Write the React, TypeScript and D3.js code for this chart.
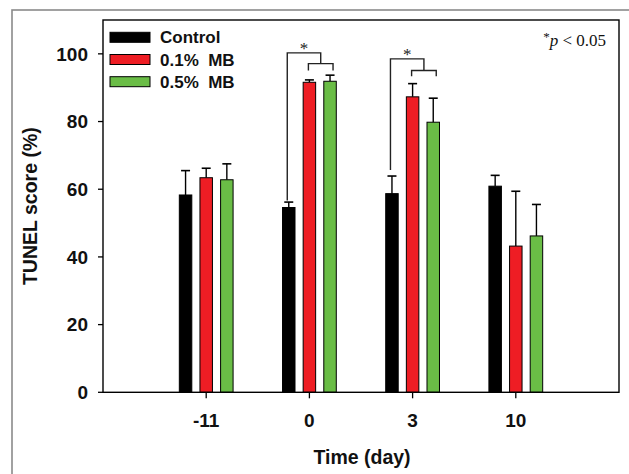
import React from "react";
import * as d3 from "d3";

const categories = ["-11", "0", "3", "10"];
const seriesNames = ["Control", "0.1%  MB", "0.5%  MB"];
const controlValues = [58.3, 54.6, 58.7, 60.9];
const controlErrors = [7.2, 1.6, 5.2, 3.2];
const mb01Values = [63.4, 91.6, 87.3, 43.2];
const mb01Errors = [2.8, 0.7, 3.9, 16.2];
const mb05Values = [62.8, 91.9, 79.8, 46.2];
const mb05Errors = [4.7, 1.8, 7.1, 9.3];
const yTicks = [0, 20, 40, 60, 80, 100];
// significance brackets: group index, big bracket top, small bracket level, small legs end, left leg end
const sigGroups = [1, 2];
const sigTop = [100.3, 98.5];
const sigSmall = [97.1, 95.1];
const sigSmallLeg = [95.1, 93.4];
const sigLeftEnd = [56.7, 65.7];

const colors = ["#000000", "#ee1d24", "#6abd46"];

export default function App() {
  const W = 629, H = 474;
  const left = 103, right = 619, top = 20, bottom = 392.3;
  const x = d3.scaleLinear().domain([0, 5]).range([left, right]);
  const y = d3.scaleLinear().domain([0, 110]).range([bottom, top]);
  const unit = x(1) - x(0);
  const offset = unit * 0.2;
  const bw = unit * 0.121;
  const cap = 9;
  const series = [
    { v: controlValues, e: controlErrors },
    { v: mb01Values, e: mb01Errors },
    { v: mb05Values, e: mb05Errors },
  ];
  const sans = "Arial, 'Liberation Sans', sans-serif";
  const serif = "'Times New Roman', 'Liberation Serif', serif";

  return (
    <svg width={W} height={H} style={{ position: "absolute", left: 0, top: 0, background: "#fff" }}>
      <rect x={12} y={10} width={700} height={600} fill="none" stroke="#8a8a8a" strokeWidth={1.6} />
      {/* bars */}
      {series.map((s, si) =>
        categories.map((c, ci) => {
          const cx = x(ci + 1) + (si - 1) * offset;
          const yt = y(s.v[ci]);
          const ye = y(s.v[ci] + s.e[ci]);
          return (
            <g key={`${si}-${ci}`}>
              <line x1={cx} x2={cx} y1={yt} y2={ye} stroke="#000" strokeWidth={1.4} />
              <line x1={cx - cap / 2} x2={cx + cap / 2} y1={ye} y2={ye} stroke="#000" strokeWidth={1.6} />
              <rect x={cx - bw / 2} y={yt} width={bw} height={bottom - yt} fill={colors[si]} stroke="#000" strokeWidth={1} />
            </g>
          );
        })
      )}
      {/* frame */}
      <rect x={left} y={top} width={right - left} height={bottom - top} fill="none" stroke="#000" strokeWidth={1.4} />
      {/* y ticks */}
      {yTicks.map((t) => (
        <g key={t}>
          <line x1={left - 5} x2={left} y1={y(t)} y2={y(t)} stroke="#000" strokeWidth={1.3} />
          <text x={88} y={y(t)} dy="0.36em" textAnchor="end" fontFamily={sans} fontWeight="bold" fontSize={19} fill="#111">
            {t}
          </text>
        </g>
      ))}
      {/* x ticks */}
      {categories.map((c, ci) => (
        <g key={c}>
          <line x1={x(ci + 1)} x2={x(ci + 1)} y1={bottom} y2={bottom + 6} stroke="#000" strokeWidth={1.3} />
          <text x={x(ci + 1)} y={420} dy="0.36em" textAnchor="middle" fontFamily={sans} fontWeight="bold" fontSize={19} fill="#111">
            {c}
          </text>
        </g>
      ))}
      {/* axis labels */}
      <text x={362} y={457} dy="0.36em" textAnchor="middle" fontFamily={sans} fontWeight="bold" fontSize={19.5} fill="#111">
        Time (day)
      </text>
      <text transform={`translate(30,${(top + bottom) / 2}) rotate(-90)`} dy="0.36em" textAnchor="middle" fontFamily={sans} fontWeight="bold" fontSize={19.5} fill="#111">
        TUNEL score (%)
      </text>
      {/* legend */}
      {seriesNames.map((n, i) => (
        <g key={n}>
          <rect x={110} y={32.3 + i * 22.2} width={40} height={10} fill={colors[i]} stroke="#000" strokeWidth={1} />
          <text x={160} y={37.3 + i * 22.2} dy="0.36em" fontFamily={sans} fontWeight="bold" fontSize={17} fill="#111" style={{ whiteSpace: "pre" }}>
            {n}
          </text>
        </g>
      ))}
      {/* significance brackets */}
      {sigGroups.map((g, i) => {
        const bx = x(g + 1) - offset - 1.5;
        const rx = x(g + 1) - 1;
        const gx = x(g + 1) + offset + 3;
        const mx = (rx + gx) / 2;
        const yTop = y(sigTop[i]);
        const ySm = y(sigSmall[i]);
        const ySmLeg = y(sigSmallLeg[i]);
        const yLeft = y(sigLeftEnd[i]);
        return (
          <g key={g} fill="none" stroke="#222" strokeWidth={1.4}>
            <path d={`M${bx},${yLeft}V${yTop}H${mx}V${ySm}`} />
            <path d={`M${rx},${ySmLeg}V${ySm}H${gx}V${ySmLeg}`} />
            <text x={(bx + mx) / 2} y={yTop + 1} textAnchor="middle" fontFamily={serif} fontSize={17} fill="#222" stroke="none">
              *
            </text>
          </g>
        );
      })}
      {/* annotation */}
      <text x={606} y={46} textAnchor="end" fontFamily={serif} fontSize={17} fill="#111">
        <tspan fontSize={13} dy={-5}>*</tspan>
        <tspan fontStyle="italic" dy={5}>p</tspan>
        <tspan> &lt; 0.05</tspan>
      </text>
    </svg>
  );
}
